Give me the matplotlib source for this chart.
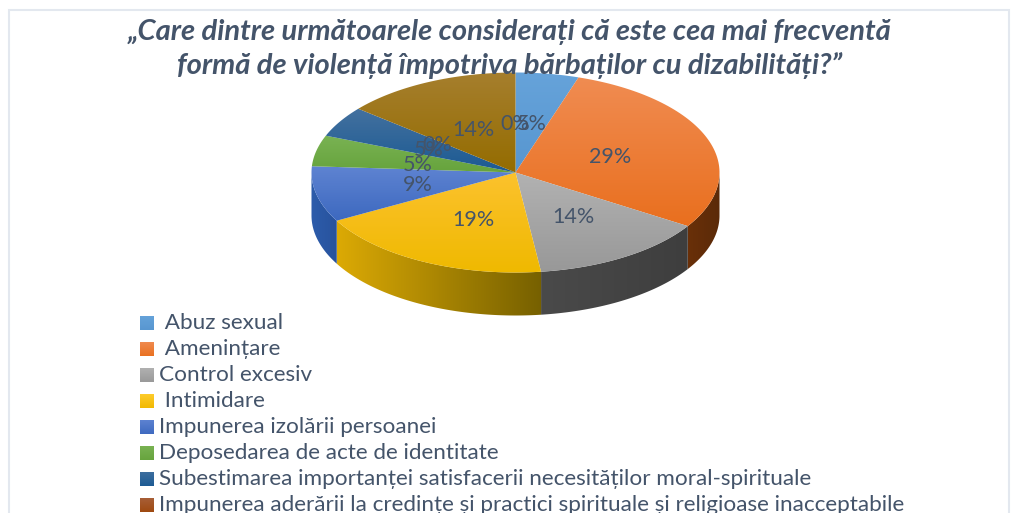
"""3D-style pie chart drawn in pixel coordinates."""
import numpy as np
import matplotlib
matplotlib.use('Agg')
import matplotlib.pyplot as plt
from matplotlib.colors import LinearSegmentedColormap
from matplotlib.patches import Polygon, Rectangle

title_lines = ['„Care dintre următoarele considerați că este cea mai frecventă',
               'formă de violență împotriva bărbaților cu dizabilități?”']
legend_labels = [' Abuz sexual', ' Amenințare', 'Control excesiv', ' Intimidare',
                 'Impunerea izolării persoanei', 'Deposedarea de acte de identitate',
                 'Subestimarea importanței satisfacerii necesităților moral-spirituale',
                 'Impunerea aderării la credințe și practici spirituale și religioase inacceptabile']
shares = [5, 29, 14, 19, 9, 5, 5, 0, 14, 0]
top_light = ['#66a3da', '#f08c52', '#b2b2b2', '#fcc22e', '#5f84d2', '#7ab354', '#44719f', '#a5481a', '#a67f2e', '#636363']
top_dark = ['#5796d0', '#e96f1e', '#989898', '#efb900', '#3c68bf', '#66a33c', '#1b5a93', '#9e480e', '#946c00', '#636363']
side_left = ['#3f7bb0', '#6a3009', '#4a4a4a', '#dcaa05', '#2d5cab', '#4f7d30', '#1d4a74', '#7a380b', '#775a00', '#444444']
side_right = ['#3f7bb0', '#5a2a08', '#3e3e3e', '#766000', '#27529c', '#4f7d30', '#1d4a74', '#7a380b', '#775a00', '#444444']
legend_light = ['#66a3da', '#f08c52', '#b2b2b2', '#ffcd2e', '#5f84d2', '#7ab354', '#3f6f9f', '#a8603a']
legend_dark = ['#5796d0', '#e96f1e', '#989898', '#f0b800', '#3c68bf', '#66a33c', '#1b5a93', '#9e480e']

# label order follows shares
label_xy = [(532, 124), (610, 157), (573, 217), (473, 220), (418, 185),
            (418, 165), (429, 150), (437, 145), (473, 130), (515, 124)]

CX, CY, RX, RY, DEPTH = 515.5, 172.5, 204, 100, 43
TEXT = '#44546a'
FONT = 'Lato'


def ellipse_pts(a1, a2, n=80, dy=0):
    t = np.radians(np.linspace(a1, a2, n))
    return np.column_stack([CX + RX * np.sin(t), CY - RY * np.cos(t) + dy])


def gradient_patch(ax, pts, c1, c2, horizontal, zorder):
    """Fill polygon pts with a linear gradient from c1 to c2."""
    poly = Polygon(pts, closed=True, facecolor='none', edgecolor='none', transform=ax.transData)
    ax.add_patch(poly)
    x0, y0 = pts.min(axis=0)
    x1, y1 = pts.max(axis=0)
    cmap = LinearSegmentedColormap.from_list('g', [c1, c2])
    g = np.linspace(0, 1, 128)
    g = g.reshape(1, -1) if horizontal else g.reshape(-1, 1)
    im = ax.imshow(g, cmap=cmap, extent=(x0 - 1, x1 + 1, y1 + 1, y0 - 1), aspect='auto',
                   zorder=zorder, interpolation='bilinear', vmin=0, vmax=1)
    im.set_clip_path(poly)


fig = plt.figure(figsize=(10.11, 5.13), dpi=100)
ax = fig.add_axes([0, 0, 1, 1])

# chart frame
ax.add_patch(Rectangle((8.5, 9.5), 1000, 520, facecolor='white', edgecolor='#e3e8ef', linewidth=1.5, zorder=0))

# side walls first, then top faces
edges = 360 * np.cumsum([0] + shares) / sum(shares)
for i in range(len(shares)):
    a1, a2 = max(edges[i], 90), min(edges[i + 1], 270)
    if a2 > a1:
        arc = ellipse_pts(a1, a2)
        wall = np.vstack([arc, arc[::-1] + [0, DEPTH]])
        # gradient runs left to right on screen
        gradient_patch(ax, wall, side_left[i], side_right[i], True, 1)

for i in range(len(shares)):
    if shares[i] > 0:
        face = np.vstack([[CX, CY], ellipse_pts(edges[i], edges[i + 1])])
        gradient_patch(ax, face, top_light[i], top_dark[i], False, 2)

for share, (x, y) in zip(shares, label_xy):
    ax.text(x, y, f'{share}%', fontsize=15.5, color=TEXT, family=FONT, ha='center', va='center', zorder=4)

for line, y in zip(title_lines, [32, 66]):
    ax.text(510, y, line, fontsize=21, color=TEXT, family=FONT, weight='bold', style='italic',
            ha='center', va='center', zorder=5)

for i, lab in enumerate(legend_labels):
    y = 323 + i * 26
    sq = np.array([[140, y - 7], [154, y - 7], [154, y + 7], [140, y + 7]], dtype=float)
    gradient_patch(ax, sq, legend_light[i], legend_dark[i], False, 3)
    ax.text(159, y, lab, fontsize=16.2, color=TEXT, family=FONT, ha='left', va='center', zorder=5)

ax.set_xlim(0, 1011)
ax.set_ylim(513, 0)
ax.axis('off')
fig.savefig('out.png', dpi=100)
